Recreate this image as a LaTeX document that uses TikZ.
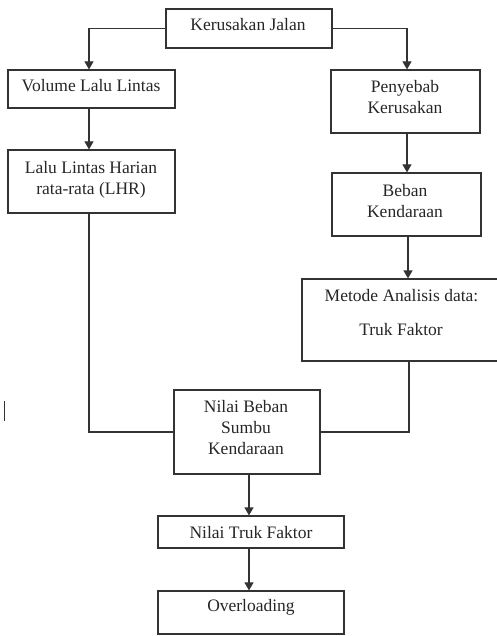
\documentclass[tikz,border=0pt]{standalone}
\usepackage{fontspec}
\setmainfont{Liberation Serif}
\usetikzlibrary{arrows.meta}
\begin{document}
\begin{tikzpicture}[x=1pt,y=1pt,
  box/.style={draw=black!80, line width=1.2pt, rectangle, inner sep=0pt},
  txt/.style={font=\fontsize{17.5}{21}\selectfont, inner sep=0pt, align=center, text=black!85},
  conn/.style={draw=black!80, line width=1.2pt},
  arr/.style={conn, -{Triangle[width=9pt,length=8pt]}}]
\useasboundingbox (0,0) rectangle (496,-636);
% boxes
\node[box, minimum width=166pt, minimum height=39pt] (k) at (249,-28.5) {};
\node[box, minimum width=167pt, minimum height=38pt] (v) at (91.5,-89) {};
\node[box, minimum width=167pt, minimum height=63pt] (l) at (91.5,-181.5) {};
\node[box, minimum width=149pt, minimum height=63pt] (p) at (405.5,-101.5) {};
\node[box, minimum width=149pt, minimum height=63pt] (b) at (406.5,-204.5) {};
\node[box, minimum width=196pt, minimum height=82pt] (m) at (400,-320) {};
\node[box, minimum width=146pt, minimum height=84pt] (n) at (247,-432) {};
\node[box, minimum width=186pt, minimum height=32pt] (t) at (251,-532) {};
\node[box, minimum width=186pt, minimum height=43pt] (o) at (251,-612.5) {};
% texts
\node[txt] (tk) at (248,-25) {Kerusakan Jalan};
\node[txt] (tv) at (91,-86) {Volume Lalu Lintas};
\node[txt] (tl) at (91,-179.5) {Lalu Lintas Harian\\rata-rata (LHR)};
\node[txt] (tp) at (405,-97) {Penyebab\\Kerusakan};
\node[txt] (tb) at (405,-201.5) {Beban\\Kendaraan};
\node[txt] (tm1) at (401.5,-296) {Metode Analisis data:};
\node[txt] (tm2) at (401,-330) {Truk Faktor};
\node[txt] (tn) at (246,-427.5) {Nilai Beban\\Sumbu\\Kendaraan};
\node[txt] (tt) at (251,-533) {Nilai Truk Faktor};
\node[txt] (to) at (251,-607) {Overloading};
% connectors
\draw[arr] (k.west) -| ([xshift=-2.5pt]v.north);
\draw[arr] (k.east) -| ([xshift=1.5pt]p.north);
\draw[arr] ([xshift=-2.5pt]v.south) -- ([xshift=-2.5pt]l.north);
\draw[arr] ([xshift=1.5pt]p.south) -- ([xshift=1.5pt]p.south |- b.north);
\draw[arr] ([xshift=1.5pt]b.south) -- ([xshift=1.5pt]b.south |- m.north);
\draw[conn] ([xshift=-2.5pt]l.south) |- (n.west);
\draw[conn] ([xshift=2.5pt]m.south -| b.south) |- (n.east);
\draw[arr] ([xshift=2pt]n.south) -- ([xshift=2pt]n.south |- t.north);
\draw[arr] ([xshift=2pt]n.south |- t.south) -- ([xshift=2pt]n.south |- o.north);
% stray mark
\coordinate (s1) at (4,-401);
\coordinate (s2) at (4,-421);
\draw[black!80, line width=1pt] (s1) -- (s2);
\end{tikzpicture}
\end{document}
